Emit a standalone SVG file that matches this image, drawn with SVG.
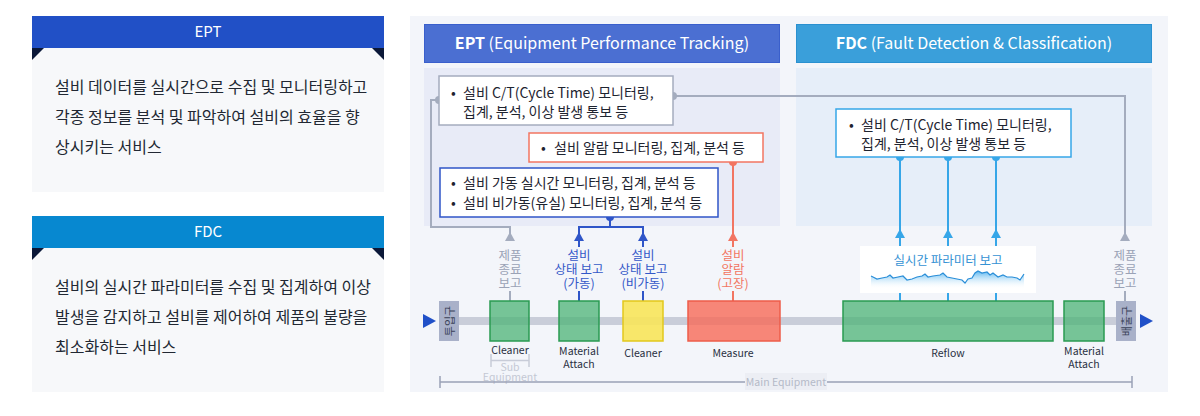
<svg xmlns="http://www.w3.org/2000/svg" width="1200" height="416" viewBox="0 0 1200 416">
<defs>
<style>
text{font-family:"Noto Sans CJK KR","Noto Sans",sans-serif}
.body{font-size:16px;fill:#222833}
.hdr{font-size:15px;fill:#ffffff;text-anchor:middle}
.ttl{font-size:16px;fill:#ffffff;text-anchor:middle}
.bx{font-size:14px;fill:#1e2430}
.lbl{font-size:12.5px;text-anchor:middle}
.pl{font-size:10.5px;fill:#2a3042;text-anchor:middle}
.g{fill:#9aa2b6}
.b{fill:#3358c8}
.r{fill:#f27562}
.gs{stroke:#a4acbe;stroke-width:2;fill:none}
.bs{stroke:#2f55c8;stroke-width:2;fill:none}
.rs{stroke:#f27562;stroke-width:2;fill:none}
.fs{stroke:#36a6e8;stroke-width:2;fill:none}
.grn{fill:#4cb376;fill-opacity:0.75;stroke:#2a9a52;stroke-width:1.5}
</style>
<linearGradient id="wave" x1="0" y1="0" x2="0" y2="1">
<stop offset="0" stop-color="#3aa8ec" stop-opacity="0.85"/>
<stop offset="1" stop-color="#ffffff" stop-opacity="0"/>
</linearGradient>
</defs>
<rect width="1200" height="416" fill="#ffffff"/>

<!-- Left EPT panel -->
<g id="left-ept">
<rect x="32" y="48" width="352" height="144" fill="#f7f8fa"/>
<rect x="32" y="16" width="352" height="32" fill="#2150c6"/>
<polygon points="32,48 44,48 32,60" fill="#0b1838"/>
<polygon points="384,48 372,48 384,60" fill="#0b1838"/>
<text class="hdr" x="208" y="37">EPT</text>
<text class="body" x="55" y="93">설비 데이터를 실시간으로 수집 및 모니터링하고</text>
<text class="body" x="55" y="123">각종 정보를 분석 및 파악하여 설비의 효율을 향</text>
<text class="body" x="55" y="153">상시키는 서비스</text>
</g>

<!-- Left FDC panel -->
<g id="left-fdc">
<rect x="32" y="248" width="352" height="144" fill="#f7f8fa"/>
<rect x="32" y="216" width="352" height="32" fill="#0788d0"/>
<polygon points="32,248 44,248 32,260" fill="#0b1838"/>
<polygon points="384,248 372,248 384,260" fill="#0b1838"/>
<text class="hdr" x="208" y="237">FDC</text>
<text class="body" x="55" y="293">설비의 실시간 파라미터를 수집 및 집계하여 이상</text>
<text class="body" x="55" y="323">발생을 감지하고 설비를 제어하여 제품의 불량을</text>
<text class="body" x="55" y="353">최소화하는 서비스</text>
</g>

<!-- Main background -->
<rect x="410" y="16" width="758" height="376" fill="#f3f5fa"/>

<g id="ept-section">
<rect x="424" y="68" width="356" height="158" fill="#e8ebf7"/>
<rect x="424.5" y="24.5" width="355" height="38" fill="#4b6fd2" stroke="#3a5fcc"/>
<text class="ttl" x="602" y="49"><tspan font-weight="bold">EPT</tspan> (Equipment Performance Tracking)</text>
</g>

<g id="fdc-section">
<rect x="796" y="68" width="356" height="158" fill="#e6eef9"/>
<rect x="796.5" y="24.5" width="355" height="38" fill="#3a9fda" stroke="#2a90d0"/>
<text class="ttl" x="974" y="49"><tspan font-weight="bold">FDC</tspan> (Fault Detection &amp; Classification)</text>
</g>

<!-- Process band -->
<g id="process-line">
<rect x="459" y="317" width="657" height="8" fill="#c9cdd9"/>
<polygon points="423,314 436,321 423,328" fill="#2050c8"/>
<polygon points="1140,314 1153,321 1140,328" fill="#2050c8"/>
</g>

<!-- Connectors -->
<g id="connectors">
<path class="gs" d="M439,100 H431 V227 H510 V240"/>
<polygon points="505,241 510,232 515,241" fill="#a4acbe"/>
<line class="gs" x1="510" y1="291" x2="510" y2="301"/>
<path class="gs" d="M673,96 H1125 V240"/>
<polygon points="1120,241 1125,232 1130,241" fill="#a4acbe"/>
<line class="gs" x1="1125" y1="291" x2="1125" y2="301"/>
<circle cx="439" cy="100" r="4" fill="#a4acbe"/>
<circle cx="673" cy="96" r="4" fill="#a4acbe"/>

<path class="bs" d="M610,217 V227 M579,247 V227 H643 V247"/>
<polygon points="574,241 579,232 584,241" fill="#2f55c8"/>
<polygon points="638,241 643,232 648,241" fill="#2f55c8"/>
<line class="bs" x1="579" y1="291" x2="579" y2="301"/>
<line class="bs" x1="643" y1="291" x2="643" y2="301"/>
<circle cx="610" cy="217" r="4" fill="#2f55c8"/>

<path class="rs" d="M733,162 V247"/>
<polygon points="728,241 733,232 738,241" fill="#f27562"/>
<line class="rs" x1="733" y1="291" x2="733" y2="301"/>
<circle cx="733" cy="162" r="4" fill="#f27562"/>

<path class="fs" d="M900,157 V301 M948,157 V301 M996,157 V301"/>
<polygon points="895,238 900,229 905,238" fill="#36a6e8"/>
<polygon points="943,238 948,229 953,238" fill="#36a6e8"/>
<polygon points="991,238 996,229 1001,238" fill="#36a6e8"/>
<circle cx="900" cy="157" r="4" fill="#36a6e8"/>
<circle cx="948" cy="157" r="4" fill="#36a6e8"/>
<circle cx="996" cy="157" r="4" fill="#36a6e8"/>
</g>

<!-- EPT boxes -->
<g id="box-ct">
<rect x="439" y="76" width="234" height="49" fill="#ffffff" stroke="#a4acbe" stroke-width="1.5"/>
<text class="bx" x="451" y="98">•</text>
<text class="bx" x="463" y="98">설비 C/T(Cycle Time) 모니터링,</text>
<text class="bx" x="463" y="117">집계, 분석, 이상 발생 통보 등</text>
</g>
<g id="box-alarm">
<rect x="529" y="133" width="234" height="29" fill="#ffffff" stroke="#f27562" stroke-width="1.5"/>
<text class="bx" x="541" y="153">•</text>
<text class="bx" x="554" y="153">설비 알람 모니터링, 집계, 분석 등</text>
</g>
<g id="box-status">
<rect x="440" y="168" width="278" height="49" fill="#ffffff" stroke="#2f55c8" stroke-width="1.5"/>
<text class="bx" x="451" y="188">•</text>
<text class="bx" x="463" y="188">설비 가동 실시간 모니터링, 집계, 분석 등</text>
<text class="bx" x="451" y="208">•</text>
<text class="bx" x="463" y="208">설비 비가동(유실) 모니터링, 집계, 분석 등</text>
</g>
<g id="box-fdc">
<rect x="836" y="109" width="235" height="48" fill="#ffffff" stroke="#36a6e8" stroke-width="1.5"/>
<text class="bx" x="849" y="130">•</text>
<text class="bx" x="861" y="130">설비 C/T(Cycle Time) 모니터링,</text>
<text class="bx" x="861" y="149">집계, 분석, 이상 발생 통보 등</text>
</g>

<!-- Report labels -->
<g id="label-end1">
<text class="lbl g" x="510" y="260">제품</text>
<text class="lbl g" x="510" y="274">종료</text>
<text class="lbl g" x="510" y="288">보고</text>
</g>
<g id="label-run">
<text class="lbl b" x="579" y="260">설비</text>
<text class="lbl b" x="579" y="274">상태 보고</text>
<text class="lbl b" x="579" y="288">(가동)</text>
</g>
<g id="label-stop">
<text class="lbl b" x="643" y="260">설비</text>
<text class="lbl b" x="643" y="274">상태 보고</text>
<text class="lbl b" x="643" y="288">(비가동)</text>
</g>
<g id="label-alarm">
<text class="lbl r" x="733" y="260">설비</text>
<text class="lbl r" x="733" y="274">알람</text>
<text class="lbl r" x="733" y="288">(고장)</text>
</g>
<g id="label-end2">
<text class="lbl g" x="1125" y="260">제품</text>
<text class="lbl g" x="1125" y="274">종료</text>
<text class="lbl g" x="1125" y="288">보고</text>
</g>
<g id="param-report">
<rect x="860" y="246" width="176" height="47" fill="#ffffff"/>
<text class="lbl" x="948" y="265" fill="#3592d4">실시간 파라미터 보고</text>
<path fill="url(#wave)" d="M871,276 L873,277 L877,279 L882,278 L887,277 L890,275 L893,278 L898,277 L903,276 L907,280 L912,279 L917,277 L922,276 L925,274 L928,277 L933,276 L940,275 L943,273 L947,277 L952,278 L957,279 L962,280 L965,283 L968,279 L972,278 L975,273 L978,271 L982,273 L987,272 L990,275 L993,273 L998,277 L1003,275 L1007,277 L1012,277 L1017,278 L1020,280 L1022,277 L1024,274 L1024,289 L871,289 Z"/>
<polyline fill="none" stroke="#2a8ed8" stroke-width="1.2" points="871,276 873,277 877,279 882,278 887,277 890,275 893,278 898,277 903,276 907,280 912,279 917,277 922,276 925,274 928,277 933,276 940,275 943,273 947,277 952,278 957,279 962,280 965,283 968,279 972,278 975,273 978,271 982,273 987,272 990,275 993,273 998,277 1003,275 1007,277 1012,277 1017,278 1020,280 1022,277 1024,274"/>
</g>

<!-- Process equipment -->
<g id="inlet">
<rect x="439" y="301" width="20" height="40" fill="#a9b1c9"/>
<text transform="translate(449,321) rotate(-90)" text-anchor="middle" dominant-baseline="central" font-size="11" fill="#3a4258">투입구</text>
</g>
<g id="outlet">
<rect x="1116" y="301" width="20" height="40" fill="#a9b1c9"/>
<text transform="translate(1126,321) rotate(-90)" text-anchor="middle" dominant-baseline="central" font-size="11" fill="#3a4258">배출구</text>
</g>
<g id="cleaner1">
<rect class="grn" x="490" y="301" width="39" height="40"/>
<text class="pl" x="510" y="354">Cleaner</text>
</g>
<g id="material1">
<rect class="grn" x="559" y="301" width="40" height="40"/>
<text class="pl" x="579" y="355">Material</text>
<text class="pl" x="579" y="368">Attach</text>
</g>
<g id="cleaner2">
<rect x="623" y="301" width="40" height="40" fill="#f8e55a" fill-opacity="0.9" stroke="#e2c81c" stroke-width="1.5"/>
<text class="pl" x="643" y="357">Cleaner</text>
</g>
<g id="measure">
<rect x="688" y="301" width="92" height="40" fill="#f76a58" fill-opacity="0.8" stroke="#ee5c4a" stroke-width="1.5"/>
<text class="pl" x="733" y="357">Measure</text>
</g>
<g id="reflow">
<rect class="grn" x="843" y="301" width="210" height="40"/>
<text class="pl" x="948" y="357">Reflow</text>
</g>
<g id="material2">
<rect class="grn" x="1064" y="301" width="40" height="40"/>
<text class="pl" x="1084" y="355">Material</text>
<text class="pl" x="1084" y="368">Attach</text>
</g>

<!-- Brackets -->
<g id="sub-equipment">
<path d="M491,354 V367 M529,354 V367 M491,360.5 H529" stroke="#c8ccd8" stroke-width="1.5" fill="none"/>
<text class="pl" x="510" y="371" style="fill:#c4c8d4">Sub</text>
<text class="pl" x="510" y="381" style="fill:#c4c8d4">Equipment</text>
</g>
<g id="main-equipment">
<path d="M440,376 V388 M1132,376 V388 M440,382 H1132" stroke="#9aa1b6" stroke-width="1.5" fill="none"/>
<rect x="745" y="373" width="82" height="17" fill="#eceef4"/>
<text class="pl" x="786" y="386" style="fill:#b4bac8">Main Equipment</text>
</g>
</svg>
